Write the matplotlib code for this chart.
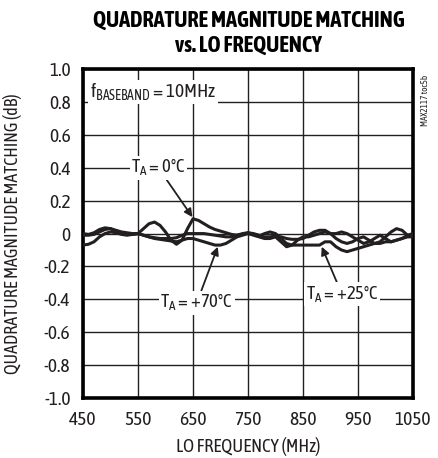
import numpy as np
import matplotlib.pyplot as plt
import matplotlib.patheffects as pe
from matplotlib import font_manager

# LO frequency in MHz, one point every 10 MHz
freq = list(range(450, 1051, 10))

t0 = [-0.01, -0.01, -0.005, 0.01, 0.025, 0.03, 0.02, 0.01, 0.005, 0.0,
      0.0, 0.03, 0.06, 0.07, 0.05, 0.01, -0.04, -0.065, -0.04, 0.03,
      0.09, 0.08, 0.06, 0.04, 0.025, 0.015, 0.005, -0.005, -0.01, -0.005,
      0.005, 0.0, -0.01, -0.02, -0.02, -0.015, -0.02, -0.03, -0.035, -0.035,
      -0.03, -0.01, 0.01, 0.02, 0.02, 0.0, -0.03, -0.05, -0.06, -0.05,
      -0.03, -0.02, -0.04, -0.06, -0.05, -0.02, 0.01, 0.03, 0.02, -0.01,
      -0.02]

t25 = [0.0, -0.005, 0.005, 0.025, 0.035, 0.03, 0.015, 0.005, -0.005, -0.005,
       0.0, -0.01, -0.02, -0.025, -0.03, -0.03, -0.03, -0.025, -0.01, 0.0,
       0.0, 0.0, 0.0, -0.005, -0.01, -0.015, -0.02, -0.02, -0.01, 0.0,
       0.005, -0.005, -0.015, 0.0, 0.01, 0.0, -0.03, -0.06, -0.07, -0.07,
       -0.07, -0.07, -0.07, -0.07, -0.05, -0.05, -0.08, -0.10, -0.11, -0.10,
       -0.09, -0.08, -0.07, -0.06, -0.06, -0.05, -0.05, -0.04, -0.03, -0.02,
       -0.02]

t70 = [-0.07, -0.065, -0.05, -0.02, 0.0, 0.01, 0.005, -0.005, -0.01, -0.005,
       0.0, -0.01, -0.02, -0.03, -0.035, -0.04, -0.045, -0.05, -0.04, -0.03,
       -0.03, -0.04, -0.05, -0.06, -0.07, -0.07, -0.06, -0.04, -0.02, -0.01,
       0.0, -0.01, -0.02, -0.03, -0.03, -0.02, -0.05, -0.08, -0.07, -0.04,
       -0.02, -0.02, -0.01, 0.0, 0.01, 0.0, 0.0, 0.01, 0.0, -0.02,
       -0.04, -0.06, -0.05, -0.03, -0.01, -0.03, -0.05, -0.04, -0.03, -0.01,
       0.0]

xticks = [450, 550, 650, 750, 850, 950, 1050]
yticks = [1.0, 0.8, 0.6, 0.4, 0.2, 0, -0.2, -0.4, -0.6, -0.8, -1.0]
ylabels = ['1.0', '0.8', '0.6', '0.4', '0.2', '0', '-0.2', '-0.4', '-0.6', '-0.8', '-1.0']

# look for a narrow face, the reference uses a condensed grotesque
fonts = font_manager.fontManager.ttflist
narrow = [f for f in fonts if 'Narrow' in f.name or 'Condensed' in f.name]
def heavy(f):
    w = f.weight
    if isinstance(w, str):
        return w in ('bold', 'heavy', 'black', 'extra bold', 'semibold', 'demibold')
    return w >= 600
bold_names = [f.name for f in narrow if heavy(f)]
if narrow:
    fam = narrow[0].name
    for f in narrow:
        if f.name in bold_names:
            fam = f.name
            break
else:
    fam = 'Liberation Sans'
has_bold = fam in bold_names
plt.rcParams['font.family'] = [fam, 'DejaVu Sans']
plt.rcParams['mathtext.fontset'] = 'custom'
plt.rcParams['mathtext.rm'] = fam

ink = '#231f20'

fig = plt.figure(figsize=(4.38, 4.58), dpi=100)
ax = fig.add_axes([0.1895, 0.131, 0.7535, 0.718])

for y in (t0, t25, t70):
    ax.plot(freq, y, color=ink, lw=2.2, solid_capstyle='round', zorder=3)

ax.set_xlim(450, 1050)
ax.set_ylim(-1.0, 1.0)
ax.set_xticks(xticks)
ax.set_yticks(yticks)
ax.set_yticklabels(ylabels)
ax.tick_params(length=0, labelsize=14, colors=ink)
ax.tick_params(axis='x', pad=9)
ax.tick_params(axis='y', pad=9)
ax.grid(True, color=ink, lw=1)
ax.set_axisbelow(True)
for s in ax.spines.values():
    s.set_linewidth(2.6)
    s.set_color('black')

ax.set_xlabel('LO FREQUENCY (MHz)', fontsize=13.5, color=ink, va='center')
ax.set_ylabel('QUADRATURE MAGNITUDE MATCHING (dB)', fontsize=13, color=ink, va='center')
ax.xaxis.set_label_coords(0.5, -0.149)
ax.yaxis.set_label_coords(-0.215, 0.5)

tkw = dict(ha='center', va='center', fontsize=16, color='black')
if has_bold:
    tkw['fontweight'] = 'bold'
else:
    tkw['path_effects'] = [pe.withStroke(linewidth=1.3, foreground='black')]
fig.text(0.567, 0.955, 'QUADRATURE MAGNITUDE MATCHING', **tkw)
fig.text(0.567, 0.900, 'vs. LO FREQUENCY', **tkw)

box = dict(facecolor='white', edgecolor='none', pad=1)
ax.text(462, 0.86, r'f$_{\mathrm{BASEBAND}}$ = 10MHz', fontsize=14, color=ink,
        va='center', ha='left', bbox=box, zorder=4)

arrow = dict(arrowstyle='-|>', color=ink, lw=1.3, mutation_scale=12, shrinkA=0, shrinkB=0)
ax.annotate(r'T$_\mathrm{A}$ = 0°C', xy=(649, 0.1), xytext=(587, 0.4),
            fontsize=13.5, color=ink, ha='center', va='center', bbox=box,
            arrowprops=arrow, zorder=4)
ax.annotate(r'T$_\mathrm{A}$ = +70°C', xy=(695, -0.08), xytext=(657, -0.42),
            fontsize=13.5, color=ink, ha='center', va='center', bbox=box,
            arrowprops=arrow, zorder=4)
ax.annotate(r'T$_\mathrm{A}$ = +25°C', xy=(884, -0.08), xytext=(921, -0.37),
            fontsize=13.5, color=ink, ha='center', va='center', bbox=box,
            arrowprops=arrow, zorder=4)

fig.text(0.972, 0.78, 'MAX2117 toc5b', rotation=90, ha='center', va='center',
         fontsize=6.5, color=ink)

fig.savefig('out.png', dpi=100)
